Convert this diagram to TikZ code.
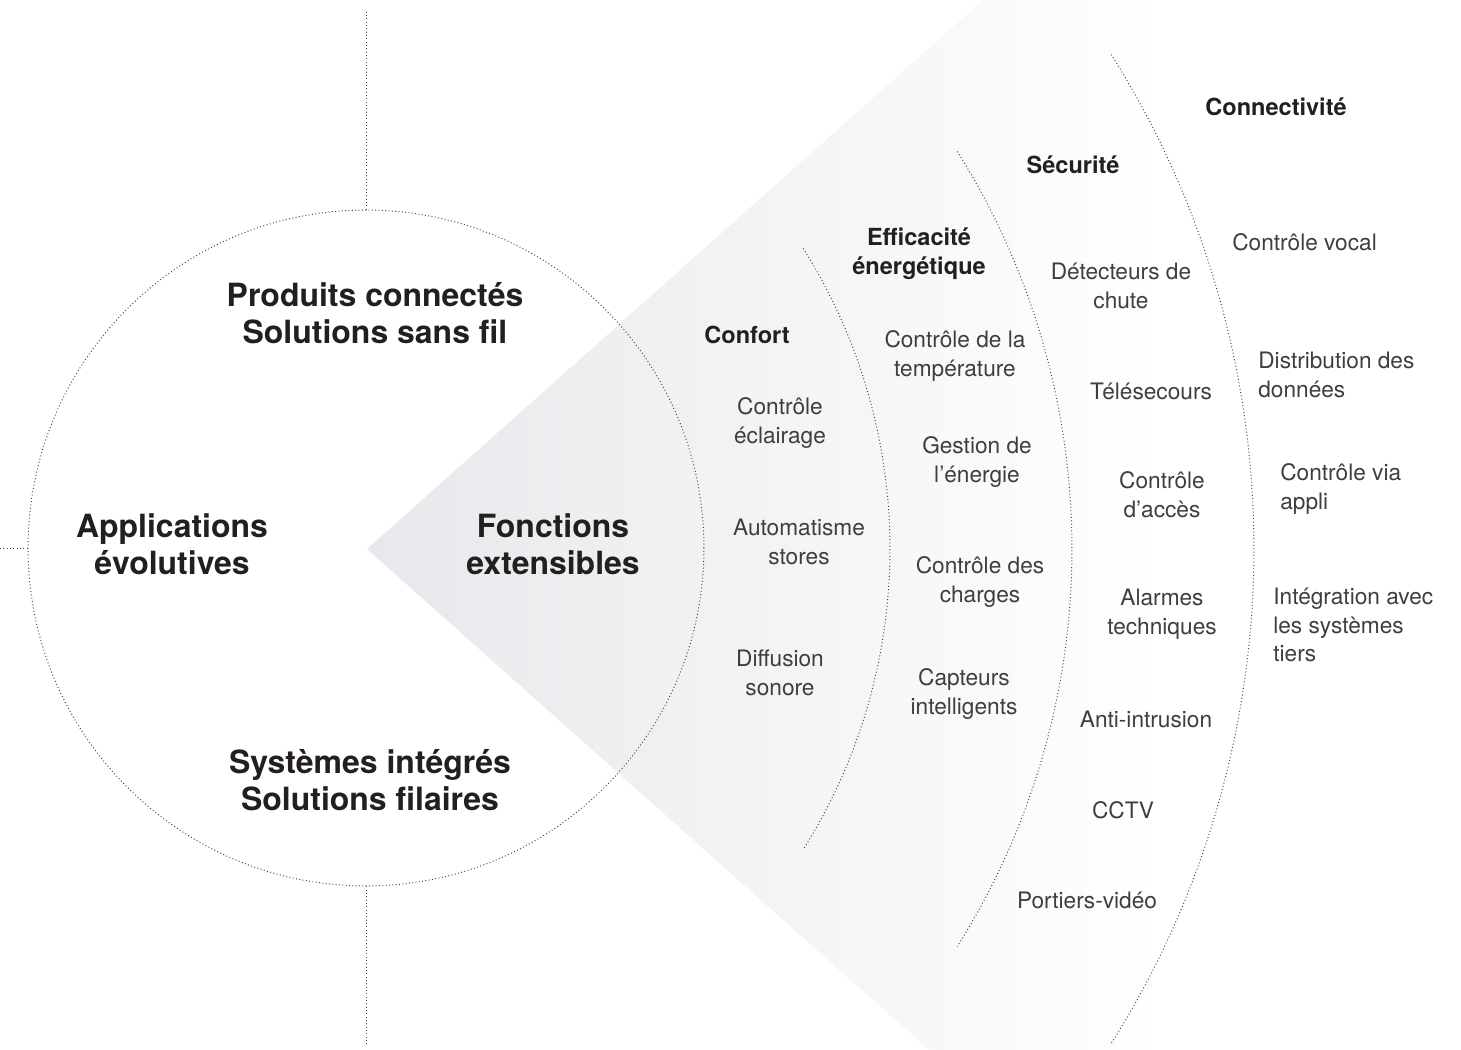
\documentclass[tikz,border=0pt]{standalone}
\usepackage{fontspec}
\setmainfont{TeX Gyre Heros}
\usetikzlibrary{positioning}
\definecolor{wedgegray}{RGB}{231,232,235}
\definecolor{textdark}{RGB}{35,31,32}
\definecolor{textsoft}{RGB}{62,62,64}
\definecolor{dotgray}{RGB}{70,70,70}

\begin{document}
\begin{tikzpicture}[x=0.02cm, y=-0.02cm,
  dots/.style={dotgray, line width=0.55pt, dash pattern=on 0.55pt off 1.35pt},
  bigtext/.style={font=\fontsize{18.2}{21}\selectfont\bfseries, text=textdark, align=center, inner sep=0pt},
  headtext/.style={font=\fontsize{13.4}{16.4}\selectfont\bfseries, text=textdark, align=center, inner sep=0pt},
  itemtext/.style={font=\fontsize{12.9}{16.4}\selectfont, text=textsoft, align=center, inner sep=0pt, yshift=-0.04cm},
  sidetext/.style={itemtext, align=left, anchor=west}]
\useasboundingbox (0,0) rectangle (1461,1050);

% Wedge
\coordinate (apex) at (367,549);
\shade[left color=wedgegray, right color=white] (apex) -- (983,0) -- (1170,0) -- (1170,1050) -- (929,1050) -- cycle;

% Circle and its dotted ties
\node[circle, draw, dots, minimum size=13.52cm, inner sep=0pt] (ring) at (366,548) {};
\coordinate (topend) at (366,10);
\coordinate (bottomend) at (366,1046);
\coordinate (leftend) at (0,548);
\draw[dots] (ring.north) -- (topend);
\draw[dots] (ring.south) -- (bottomend);
\draw[dots] (ring.west) -- (leftend);

% Arcs between the groups
\coordinate (focus) at (326,549);
\foreach \r in {564,746,928}
  \draw[dots] (focus) ++(-32.2:\r) arc[start angle=-32.2, end angle=32.2, radius=\r];

% Circle labels
\node[bigtext] (produits) at (375,313) {Produits connectés\\Solutions sans fil};
\node[bigtext] (applications) at (172,544) {Applications\\évolutives};
\node[bigtext] (fonctions) at (553,544) {Fonctions\\extensibles};
\node[bigtext] (systemes) at (370,780) {Systèmes intégrés\\Solutions filaires};

% Confort
\node[headtext] (confort) at (747,335) {Confort};
\node[itemtext] (eclairage) at (780,421) {Contrôle\\éclairage};
\node[itemtext] (stores) at (799,540) {Automatisme\\stores};
\node[itemtext] (sonore) at (780,671) {Diffusion\\sonore};

% Efficacite energetique
\node[headtext] (efficacite) at (919,254) {Efficacité\\énergétique};
\node[itemtext] (temperature) at (955,354) {Contrôle de la\\température};
\node[itemtext] (energie) at (977,460) {Gestion de\\l’énergie};
\node[itemtext] (charges) at (980,580) {Contrôle des\\charges};
\node[itemtext] (capteurs) at (964,692) {Capteurs\\intelligents};

% Securite
\node[headtext] (securite) at (1073,165) {Sécurité};
\node[itemtext] (chute) at (1121,284) {Détecteurs de\\chute};
\node[itemtext] (telesecours) at (1151,389) {Télésecours};
\node[itemtext] (acces) at (1162,493) {Contrôle\\d’accès};
\node[itemtext] (alarmes) at (1162,612) {Alarmes\\techniques};
\node[itemtext] (intrusion) at (1146,717) {Anti-intrusion};
\node[itemtext] (cctv) at (1123,808) {CCTV};
\node[itemtext] (portiers) at (1087,898) {Portiers-vidéo};

% Connectivite
\node[headtext] (connectivite) at (1276,107) {Connectivité};
\node[sidetext] (vocal) at (1232,240) {Contrôle vocal};
\node[sidetext] (donnees) at (1258,373) {Distribution des\\données};
\node[sidetext] (appli) at (1280,487) {Contrôle via\\appli};
\node[sidetext] (tiers) at (1273,623) {Intégration avec\\les systèmes\\tiers};
\end{tikzpicture}
\end{document}
